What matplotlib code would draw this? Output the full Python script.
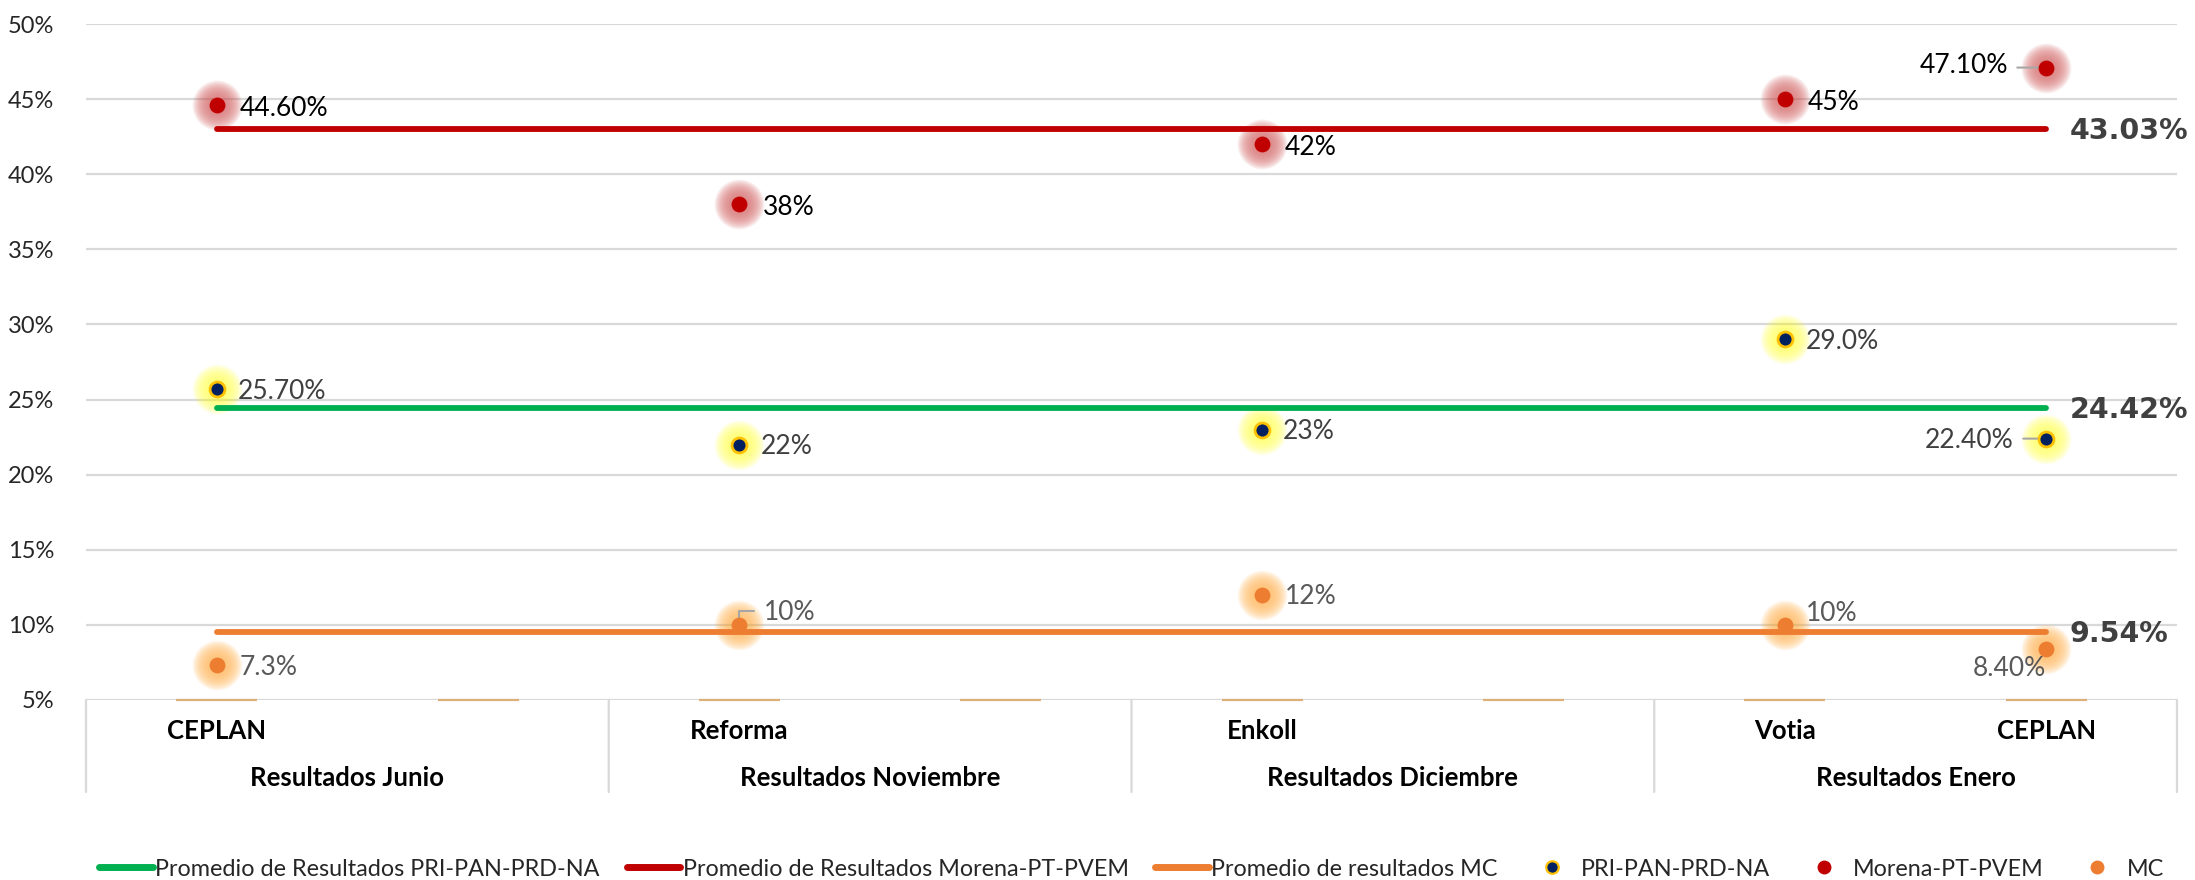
import matplotlib
matplotlib.use("Agg")
import numpy as np
from matplotlib import pyplot as plt
from matplotlib.lines import Line2D
from matplotlib.ticker import FuncFormatter, MultipleLocator
import matplotlib.transforms as mtransforms

# --- data ---
slot_labels = ["CEPLAN", "", "Reforma", "", "Enkoll", "", "Votia", "CEPLAN"]
group_labels = ["Resultados Junio", "Resultados Noviembre", "Resultados Diciembre", "Resultados Enero"]
point_slots = [0, 2, 4, 6, 7]

pri = [25.7, 22, 23, 29.0, 22.4]
pri_text = ["25.70%", "22%", "23%", "29.0%", "22.40%"]
morena = [44.6, 38, 42, 45, 47.1]
morena_text = ["44.60%", "38%", "42%", "45%", "47.10%"]
mc = [7.3, 10, 12, 10, 8.4]
mc_text = ["7.3%", "10%", "12%", "10%", "8.40%"]

avg_pri = 24.42
avg_morena = 43.03
avg_mc = 9.54

GREEN = "#00B050"
RED = "#C00000"
ORANGE = "#ED7D31"
NAVY = "#002060"
GOLD = "#FFC000"
GRID = "#D9D9D9"

plt.rcParams['font.family'] = ['Lato', 'DejaVu Sans']

fig = plt.figure(figsize=(21.95, 8.8), dpi=100)
ax = fig.add_axes([86 / 2195, 1 - 700 / 880, (2177 - 86) / 2195, (700 - 24) / 880])

n_slots = len(slot_labels)
x_centers = np.arange(n_slots)
xs = [x_centers[i] for i in point_slots]

ax.set_xlim(-0.5, n_slots - 0.5)
ax.set_ylim(5, 50)
ax.yaxis.set_major_locator(MultipleLocator(5))
ax.yaxis.set_major_formatter(FuncFormatter(lambda v, p: f"{v:.0f}%"))
ax.grid(axis='y', color=GRID, lw=1.6, zorder=0)
ax.set_axisbelow(True)
ax.tick_params(axis='y', length=0, pad=23, labelsize=17, labelcolor='#262626')
ax.tick_params(axis='x', length=0, labelbottom=False)
for s in ax.spines.values():
    s.set_visible(False)

# average lines
x_line = [x_centers[0], x_centers[-1]]
for val, col in [(avg_pri, GREEN), (avg_morena, RED), (avg_mc, ORANGE)]:
    ax.plot(x_line, [val, val], color=col, lw=4.2, solid_capstyle='round', zorder=3)


# soft glow behind the markers (many faint layers -> smooth falloff)
def glow(yvals, color):
    for size in np.linspace(1300, 200, 16):
        ax.scatter(xs, yvals, s=size, color=color, alpha=0.055, lw=0, zorder=2)


glow(morena, "#D04848")
glow(pri, "#FFFF30")
glow(mc, "#FFA830")

ax.scatter(xs, morena, s=130, color=RED, lw=0, zorder=5)
ax.scatter(xs, pri, s=115, color=NAVY, edgecolors=GOLD, linewidths=2, zorder=5)
ax.scatter(xs, mc, s=130, color=ORANGE, lw=0, zorder=5)

# small tan dashes on the base line
ax.hlines([5] * n_slots, x_centers - 0.155, x_centers + 0.155, color="#DDB07A", lw=1.6, zorder=4, clip_on=False)


def label(x, y, txt, dx, dy, color, ha='left'):
    ax.annotate(txt, (x, y), xytext=(dx, dy), textcoords='offset pixels',
                ha=ha, va='center', fontsize=19, color=color, zorder=6)


# Morena labels
for i, (x, y, t) in enumerate(zip(xs, morena, morena_text)):
    if i == 4:
        label(x, y, t, -38, 2, '#000000', ha='right')
        ax.annotate("", (x, y), xytext=(-29, 0), textcoords='offset pixels',
                    arrowprops=dict(arrowstyle='-', color='#A6A6A6', lw=1.5, shrinkA=0, shrinkB=2))
    else:
        label(x, y, t, 23, -3, '#000000')

# PRI labels
for i, (x, y, t) in enumerate(zip(xs, pri, pri_text)):
    if i == 4:
        label(x, y, t, -33, -2, '#404040', ha='right')
        ax.annotate("", (x, y), xytext=(-23, 0), textcoords='offset pixels',
                    arrowprops=dict(arrowstyle='-', color='#A6A6A6', lw=1.5, shrinkA=0, shrinkB=2))
    else:
        label(x, y, t, 21, -2, '#404040')

# MC labels
mc_offsets = [(23, -2), (24, 12), (23, -2), (21, 11), (0, -20)]
for i, (x, y, t) in enumerate(zip(xs, mc, mc_text)):
    dx, dy = mc_offsets[i]
    if i == 4:
        label(x, y, t, dx, dy, '#595959', ha='right')
    else:
        label(x, y, t, dx, dy, '#595959')
# elbow leader for Reforma MC label
ax.annotate("", (xs[1], mc[1]), xytext=(15, 14), textcoords='offset pixels',
            arrowprops=dict(arrowstyle='-', color='#A6A6A6', lw=1.5, shrinkA=0, shrinkB=0,
                            connectionstyle='angle,angleA=0,angleB=90,rad=0'))

# average value labels
for val in [avg_morena, avg_pri, avg_mc]:
    ax.annotate(f"{val:.2f}%", (x_centers[-1], val), xytext=(23, -2), textcoords='offset pixels',
                ha='left', va='center', fontsize=20.5, fontweight='bold', color='#404040',
                family='DejaVu Sans', zorder=6)

# category axis (two levels)
trans = mtransforms.blended_transform_factory(ax.transData, ax.transAxes)
for x, t in zip(x_centers, slot_labels):
    if t:
        ax.annotate(t, (x, 0), xycoords=trans, xytext=(0, -31), textcoords='offset pixels',
                    ha='center', va='center', fontsize=18.5, fontweight='bold', color='#000000')
for g, t in enumerate(group_labels):
    ax.annotate(t, (2 * g + 0.5, 0), xycoords=trans, xytext=(0, -78), textcoords='offset pixels',
                ha='center', va='center', fontsize=18.5, fontweight='bold', color='#000000')
for b in np.arange(0, n_slots + 1, 2) - 0.5:
    ax.annotate("", (b, 0), xycoords=trans, xytext=(0, -92), textcoords='offset pixels',
                arrowprops=dict(arrowstyle='-', color=GRID, lw=1.6, shrinkA=0, shrinkB=0))

# legend
handles = [
    Line2D([], [], color=GREEN, lw=5, solid_capstyle='round'),
    Line2D([], [], color=RED, lw=5, solid_capstyle='round'),
    Line2D([], [], color=ORANGE, lw=5, solid_capstyle='round'),
    Line2D([], [], ls='none', marker='o', ms=9, color=NAVY, markeredgecolor=GOLD, mew=1.6),
    Line2D([], [], ls='none', marker='o', ms=10, color=RED, mew=0),
    Line2D([], [], ls='none', marker='o', ms=10, color=ORANGE, mew=0),
]
names = ["Promedio de Resultados PRI-PAN-PRD-NA", "Promedio de Resultados Morena-PT-PVEM",
         "Promedio de resultados MC", "PRI-PAN-PRD-NA", "Morena-PT-PVEM", "MC"]
ax_mid = (86 + 2177) / 2 / 2195
fig.legend(handles, names, loc='center', bbox_to_anchor=(ax_mid, 11 / 880), ncol=6, frameon=False,
           fontsize=16.8, handlelength=2.3, handletextpad=0.1, columnspacing=1.15, labelcolor='#262626')

fig.savefig("out.png", dpi=100)
